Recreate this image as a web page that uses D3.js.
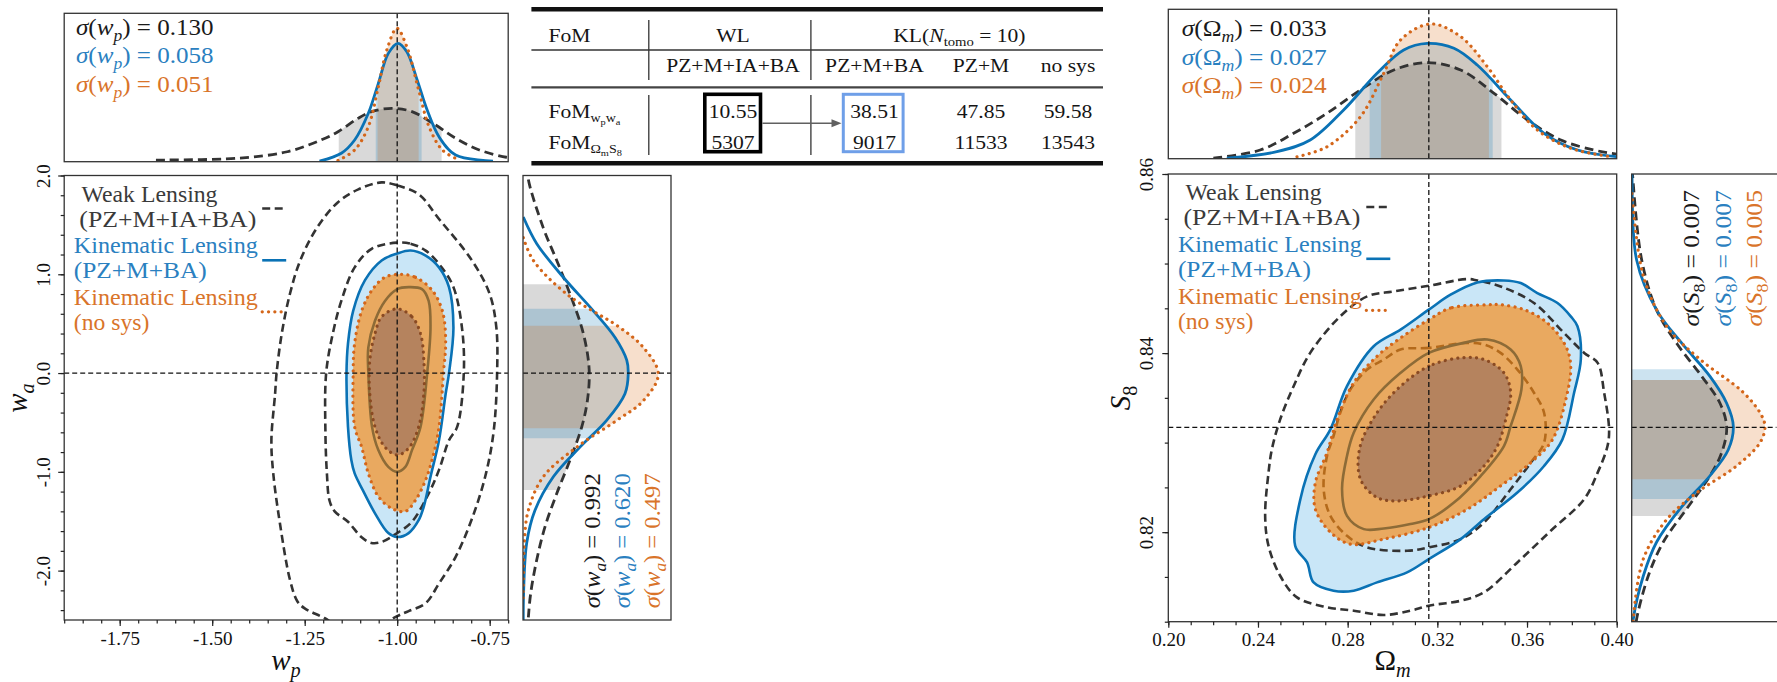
<!DOCTYPE html>
<html><head><meta charset="utf-8">
<script src="https://cdn.jsdelivr.net/npm/d3@7"></script>
<style>
html,body{margin:0;padding:0;background:#fff;}
svg{display:block;}
svg text{font-family:"Liberation Serif","DejaVu Serif",serif;}
</style>
</head><body><svg id="c" width="1777" height="682"></svg>
<script>
// ---------------- DATA ----------------
// Left figure: w_p - w_a
const wpTicks = [-1.75, -1.5, -1.25, -1.0, -0.75];
const wpTickLabels = ["-1.75", "-1.50", "-1.25", "-1.00", "-0.75"];
const waTicks = [2, 1, 0, -1, -2];
const waTickLabels = ["2.0", "1.0", "0.0", "-1.0", "-2.0"];
const fidWpWa = [-1.0, 0.0];

const wlOuterL = [[-1.042,1.93],[-1.0,1.90],[-0.942,1.81],[-0.887,1.56],[-0.798,1.14],[-0.750,0.80],[-0.732,0.46],[-0.730,0.0],[-0.739,-0.58],[-0.760,-1.016],[-0.796,-1.455],[-0.842,-1.86],[-0.887,-2.13],[-0.923,-2.33],[-0.969,-2.41],[-1.00,-2.46],[-1.06,-2.58],[-1.14,-2.60],[-1.197,-2.48],[-1.251,-2.38],[-1.27,-2.31],[-1.29,-2.09],[-1.317,-1.52],[-1.335,-1.016],[-1.34,-0.68],[-1.33,-0.21],[-1.326,0.0],[-1.312,0.40],[-1.29,0.80],[-1.262,1.14],[-1.217,1.47],[-1.16,1.73],[-1.105,1.86]];
const wlInnerL = [[-1.0,1.32],[-0.964,1.31],[-0.923,1.24],[-0.88,1.07],[-0.848,0.87],[-0.825,0.46],[-0.82,0.0],[-0.838,-0.545],[-0.86,-0.68],[-0.887,-0.98],[-0.915,-1.22],[-0.96,-1.505],[-1.00,-1.62],[-1.042,-1.71],[-1.07,-1.72],[-1.097,-1.66],[-1.133,-1.505],[-1.169,-1.40],[-1.183,-1.29],[-1.19,-1.016],[-1.194,-0.6],[-1.192,0.0],[-1.174,0.40],[-1.151,0.73],[-1.115,1.07],[-1.068,1.26]];
const kl2L = [[-1.0,1.21],[-0.964,1.24],[-0.923,1.19],[-0.887,1.07],[-0.86,0.87],[-0.848,0.46],[-0.86,0.0],[-0.869,-0.21],[-0.887,-0.68],[-0.910,-1.05],[-0.928,-1.35],[-0.942,-1.49],[-0.969,-1.62],[-1.0,-1.66],[-1.024,-1.62],[-1.06,-1.42],[-1.093,-1.185],[-1.115,-1.016],[-1.124,-0.88],[-1.133,-0.545],[-1.137,0.0],[-1.133,0.30],[-1.119,0.63],[-1.087,0.94],[-1.042,1.14]];
const kl1L = [[-1.0,0.85],[-0.969,0.87],[-0.933,0.85],[-0.915,0.73],[-0.910,0.46],[-0.919,0.0],[-0.937,-0.545],[-0.96,-0.78],[-0.978,-0.95],[-1.0,-1.0],[-1.024,-0.95],[-1.051,-0.78],[-1.068,-0.545],[-1.078,0.0],[-1.078,0.26],[-1.06,0.53],[-1.033,0.73]];
const ns2L = [[-0.992,1.0],[-0.951,0.97],[-0.906,0.84],[-0.878,0.63],[-0.869,0.33],[-0.875,0.0],[-0.887,-0.545],[-0.901,-0.81],[-0.923,-1.08],[-0.951,-1.29],[-0.978,-1.40],[-1.015,-1.37],[-1.051,-1.25],[-1.078,-1.016],[-1.096,-0.75],[-1.115,-0.545],[-1.119,0.0],[-1.115,0.30],[-1.096,0.63],[-1.068,0.84],[-1.033,0.97]];
const ns1L = [[-1.0,0.65],[-0.96,0.57],[-0.937,0.40],[-0.928,0.13],[-0.928,-0.21],[-0.942,-0.545],[-0.969,-0.76],[-1.0,-0.83],[-1.033,-0.75],[-1.06,-0.545],[-1.074,-0.21],[-1.074,0.13],[-1.06,0.40],[-1.042,0.57]];

const wpDensWL = [[-1.652,0.011],[-1.434,0.023],[-1.297,0.067],[-1.206,0.146],[-1.160,0.202],[-1.106,0.292],[-1.069,0.337],[-1.014,0.360],[-0.960,0.337],[-0.896,0.247],[-0.842,0.158],[-0.778,0.079],[-0.705,0.030],[-0.69,0.027]];
const wpDensKL = [[-1.210,0.004],[-1.151,0.057],[-1.115,0.146],[-1.078,0.326],[-1.051,0.528],[-1.024,0.730],[-0.998,0.798],[-0.974,0.741],[-0.946,0.551],[-0.919,0.348],[-0.887,0.168],[-0.842,0.045],[-0.741,0.004]];
const wpDensNS = [[-1.160,0.008],[-1.115,0.079],[-1.078,0.236],[-1.051,0.505],[-1.028,0.753],[-1.001,0.899],[-0.974,0.775],[-0.942,0.483],[-0.914,0.236],[-0.878,0.079],[-0.833,0.012]];
const wpBands = {wl:[-1.158,-0.880], kl:[-1.058,-0.934], ns:[-1.053,-0.942]};

const waDensWL = [[2.1,0.03],[1.96,0.036],[1.47,0.137],[1.14,0.228],[0.80,0.318],[0.46,0.397],[0.20,0.435],[-0.01,0.448],[-0.28,0.435],[-0.545,0.397],[-0.88,0.318],[-1.22,0.228],[-1.555,0.149],[-1.89,0.093],[-2.23,0.052],[-2.48,0.036],[-2.6,0.032]];
const waDensKL = [[1.58,0.002],[1.31,0.093],[0.97,0.272],[0.63,0.475],[0.36,0.622],[0.13,0.701],[-0.01,0.711],[-0.21,0.689],[-0.48,0.565],[-0.75,0.385],[-1.05,0.205],[-1.39,0.081],[-1.72,0.025],[-2.23,0.004],[-2.6,0.002]];
const waDensNS = [[1.37,0.002],[1.14,0.07],[0.80,0.295],[0.46,0.655],[0.26,0.813],[-0.01,0.914],[-0.28,0.813],[-0.48,0.633],[-0.75,0.363],[-1.05,0.137],[-1.39,0.036],[-1.72,0.009],[-2.3,0.002]];
const waBands = {wl:[-1.185,0.90], kl:[-0.66,0.65], ns:[-0.56,0.48]};

const sigmaWp = ["0.130", "0.058", "0.051"];
const sigmaWa = ["0.992", "0.620", "0.497"];

// Right figure: Omega_m - S_8
const omTicks = [0.20, 0.24, 0.28, 0.32, 0.36, 0.40];
const omTickLabels = ["0.20", "0.24", "0.28", "0.32", "0.36", "0.40"];
const s8Ticks = [0.86, 0.84, 0.82];
const s8TickLabels = ["0.86", "0.84", "0.82"];
const fidOmS8 = [0.3162, 0.8317];

const wlOuterR = [[0.3334,0.84827],[0.3162,0.84752],[0.3006,0.84689],[0.2887,0.84633],[0.2767,0.8441],[0.2633,0.84002],[0.2559,0.8363],[0.2499,0.83259],[0.2462,0.82925],[0.2447,0.82665],[0.2432,0.82182],[0.2447,0.81847],[0.2499,0.81513],[0.2574,0.81272],[0.2708,0.81161],[0.2827,0.81123],[0.2961,0.81075],[0.308,0.81123],[0.3162,0.81179],[0.3304,0.81234],[0.3408,0.81328],[0.3557,0.81662],[0.3706,0.82015],[0.3855,0.82368],[0.3915,0.82665],[0.3959,0.82962],[0.3966,0.83148],[0.3944,0.83557],[0.3915,0.83891],[0.3855,0.84002],[0.3765,0.84225],[0.3631,0.84559],[0.3482,0.84744],[0.3378,0.84811]];
const wlInnerR = [[0.3334,0.84114],[0.3162,0.84058],[0.3036,0.84039],[0.2961,0.83928],[0.2887,0.83816],[0.2812,0.83593],[0.2767,0.83333],[0.2737,0.83073],[0.2708,0.82851],[0.2693,0.82479],[0.2723,0.82182],[0.2797,0.81959],[0.2887,0.8183],[0.3065,0.81792],[0.3162,0.8183],[0.3304,0.81922],[0.3408,0.82108],[0.3527,0.82479],[0.3617,0.82777],[0.3676,0.82999],[0.3676,0.83333],[0.3631,0.83557],[0.3557,0.83816],[0.3482,0.84002],[0.3408,0.84095]];
const kl2R = [[0.3497,0.84811],[0.3378,0.84789],[0.3259,0.84652],[0.3162,0.84485],[0.3036,0.84262],[0.2916,0.84076],[0.2797,0.8363],[0.2723,0.83148],[0.2656,0.8287],[0.2589,0.82368],[0.2566,0.81847],[0.2619,0.81662],[0.2648,0.81439],[0.2737,0.81346],[0.2827,0.81346],[0.2931,0.81439],[0.3065,0.81551],[0.3162,0.81699],[0.3304,0.81922],[0.3408,0.82145],[0.3557,0.82442],[0.3676,0.82739],[0.3758,0.83036],[0.381,0.83557],[0.384,0.83928],[0.3825,0.84299],[0.3795,0.8441],[0.3736,0.84559],[0.3646,0.8467],[0.3572,0.84782]];
const kl1R = [[0.3423,0.84151],[0.3318,0.84114],[0.3162,0.84002],[0.3036,0.83779],[0.2916,0.83482],[0.2827,0.83111],[0.2797,0.82851],[0.2775,0.82479],[0.2797,0.82182],[0.2872,0.82034],[0.2961,0.82041],[0.308,0.8209],[0.3162,0.82145],[0.3274,0.8233],[0.3393,0.82627],[0.3497,0.82962],[0.3527,0.83184],[0.3575,0.83593],[0.3572,0.83853],[0.3527,0.84039]];
const ns2R = [[0.3423,0.8454],[0.3259,0.84503],[0.3162,0.84373],[0.3036,0.84169],[0.2931,0.83964],[0.2827,0.83668],[0.2753,0.83259],[0.2708,0.82888],[0.2656,0.82554],[0.2656,0.82256],[0.2723,0.82],[0.2812,0.81866],[0.2961,0.81922],[0.3162,0.82053],[0.3334,0.82256],[0.3482,0.82516],[0.3617,0.82777],[0.3714,0.83036],[0.3773,0.83482],[0.3795,0.83853],[0.3773,0.84076],[0.3691,0.84336],[0.3587,0.84485],[0.3482,0.8454]];
const ns1R = [[0.3304,0.83947],[0.3162,0.83853],[0.3036,0.8363],[0.2931,0.83333],[0.2855,0.8295],[0.2857,0.82591],[0.2931,0.82387],[0.3021,0.82349],[0.3162,0.82405],[0.3304,0.82516],[0.3408,0.82739],[0.3468,0.82962],[0.3505,0.83259],[0.3527,0.83557],[0.3497,0.83779],[0.3408,0.83928]];

const omDensWL = [[0.2201,0.003],[0.241,0.058],[0.2559,0.170],[0.2708,0.304],[0.2857,0.460],[0.3006,0.594],[0.3155,0.643],[0.3304,0.594],[0.3453,0.438],[0.3602,0.259],[0.3751,0.125],[0.3899,0.058],[0.4001,0.031],[0.41,0.02]];
const omDensKL = [[0.2261,0.003],[0.2484,0.047],[0.2633,0.125],[0.2782,0.326],[0.2931,0.572],[0.305,0.728],[0.3155,0.772],[0.3274,0.739],[0.3378,0.627],[0.3527,0.393],[0.3676,0.170],[0.3825,0.058],[0.4001,0.013],[0.41,0.008]];
const omDensNS = [[0.2574,0.013],[0.2708,0.080],[0.2857,0.281],[0.2961,0.572],[0.3036,0.795],[0.317,0.902],[0.3304,0.817],[0.3423,0.616],[0.3527,0.393],[0.3646,0.192],[0.3795,0.070],[0.3974,0.013]];
const omBands = {wl:[0.2834,0.3486], kl:[0.2898,0.3447], ns:[0.2949,0.3430]};

const s8DensWL = [[0.8605,0.004],[0.8597,0.007],[0.8504,0.069],[0.8448,0.172],[0.8411,0.310],[0.8374,0.483],[0.8344,0.609],[0.8317,0.655],[0.8289,0.621],[0.8263,0.540],[0.8226,0.379],[0.8189,0.218],[0.8151,0.114],[0.8103,0.034],[0.8095,0.030]];
const s8DensKL = [[0.8605,0.001],[0.8597,0.002],[0.8504,0.034],[0.8448,0.172],[0.8411,0.345],[0.8374,0.540],[0.8344,0.655],[0.8318,0.701],[0.8292,0.666],[0.8263,0.540],[0.8226,0.333],[0.8189,0.172],[0.8151,0.080],[0.8103,0.011],[0.8095,0.008]];
const s8DensNS = [[0.8578,0.002],[0.8486,0.080],[0.843,0.241],[0.8393,0.471],[0.8356,0.770],[0.833,0.897],[0.8317,0.919],[0.83,0.885],[0.8274,0.724],[0.8244,0.448],[0.8214,0.241],[0.817,0.080],[0.8103,0.011],[0.8095,0.008]];
const s8Bands = {wl:[0.8218,0.8370], kl:[0.8237,0.8382], ns:[0.8259,0.8370]};

const sigmaOm = ["0.033", "0.027", "0.024"];
const sigmaS8 = ["0.007", "0.007", "0.005"];

const legendText = ["Weak Lensing", "(PZ+M+IA+BA)", "Kinematic Lensing", "(PZ+M+BA)", "Kinematic Lensing", "(no sys)"];

// Table
const tableHead2 = ["PZ+M+IA+BA", "PZ+M+BA", "PZ+M", "no sys"];
const fomWpWa = ["10.55", "38.51", "47.85", "59.58"];
const fomOmS8 = ["5307", "9017", "11533", "13543"];

// ---------------- DRAWING ----------------
const svg = d3.select("#c");
const COL = {wl:"#333333", kl:"#0a72b5", ns:"#d4661a", ns1:"#8a4a22", kl1:"#8d6b37"};
const TXT = {wl:"#3a3a3a", kl:"#2a80c0", ns:"#d9742a", blk:"#1a1a1a"};
const BAND = {wl:"rgba(128,128,128,0.30)", kl:"rgba(0,114,178,0.20)", ns:"rgba(213,94,0,0.20)"};

let clipN = 0;
const defs = svg.append("defs");
function clipRect(x0, y0, x1, y1) {
  const id = "clip" + (clipN++);
  defs.append("clipPath").attr("id", id).append("rect")
    .attr("x", x0).attr("y", y0).attr("width", x1 - x0).attr("height", y1 - y0);
  return `url(#${id})`;
}
function styleLine(p, k, marg) {
  p.attr("fill", "none");
  if (k === "wl") p.attr("stroke", COL.wl).attr("stroke-width", marg ? 2.8 : 2.6).attr("stroke-dasharray", marg ? "9,5" : "8,4.5");
  if (k === "kl") p.attr("stroke", COL.kl).attr("stroke-width", marg ? 2.8 : 2.6);
  if (k === "kl1") p.attr("stroke", COL.kl1).attr("stroke-width", 2.6);
  if (k === "ns") p.attr("stroke", COL.ns).attr("stroke-width", 3.2).attr("stroke-dasharray", "0.1,6.2").attr("stroke-linecap", "round");
  if (k === "ns1") p.attr("stroke", COL.ns1).attr("stroke-width", 3.2).attr("stroke-dasharray", "0.1,6.2").attr("stroke-linecap", "round");
  return p;
}
function mtext(t, parts, size) {
  let shift = 0;
  parts.forEach(p => {
    const ts = t.append("tspan").text(p.t);
    if (p.i) ts.attr("font-style", "italic");
    ts.attr("font-size", size * (p.fs || 1));
    const target = (p.dy || 0) * size;
    if (target !== shift) { ts.attr("dy", target - shift); shift = target; }
  });
  return t;
}
function fitLen(t, len) { return t.attr("textLength", len).attr("lengthAdjust", "spacingAndGlyphs"); }
function box(x0, y0, x1, y1) {
  svg.append("rect").attr("x", x0).attr("y", y0).attr("width", x1 - x0).attr("height", y1 - y0)
    .attr("fill", "none").attr("stroke", "#333").attr("stroke-width", 1.3);
}

function mainPanel(x, y, C, fid) {
  const [x0, x1] = x.range(), [yb, yt] = y.range();
  const g = svg.append("g").attr("clip-path", clipRect(x0, yt, x1, yb));
  const line = d3.line().x(d => x(d[0])).y(d => y(d[1])).curve(d3.curveCatmullRomClosed.alpha(0.5));
  g.append("path").attr("d", line(C.kl2)).attr("fill", "#c9e6f7");
  [C.wl2, C.wl1].forEach(c => styleLine(g.append("path").attr("d", line(c)), "wl"));
  styleLine(g.append("path").attr("d", line(C.kl2)), "kl");
  g.append("path").attr("d", line(C.ns2)).attr("fill", "rgba(251,137,16,0.65)");
  g.append("path").attr("d", line(C.ns1)).attr("fill", "rgba(146,106,94,0.6)");
  styleLine(g.append("path").attr("d", line(C.kl1)), "kl1");
  styleLine(g.append("path").attr("d", line(C.ns2)), "ns");
  styleLine(g.append("path").attr("d", line(C.ns1)), "ns1");
  g.append("line").attr("x1", x(fid[0])).attr("x2", x(fid[0])).attr("y1", yt).attr("y2", yb)
    .attr("stroke", "#111").attr("stroke-width", 1.3).attr("stroke-dasharray", "5,3");
  g.append("line").attr("x1", x0).attr("x2", x1).attr("y1", y(fid[1])).attr("y2", y(fid[1]))
    .attr("stroke", "#111").attr("stroke-width", 1.3).attr("stroke-dasharray", "5,3");
  box(x0, yt, x1, yb);
}

function topMarg(x, yd, D, B, fidX) {
  const [x0, x1] = x.range(), [yb, yt] = yd.range();
  const g = svg.append("g").attr("clip-path", clipRect(x0, yt, x1, yb));
  const area = d3.area().x(d => x(d[0])).y0(yb).y1(d => yd(d[1])).curve(d3.curveCatmullRom);
  const line = d3.line().x(d => x(d[0])).y(d => yd(d[1])).curve(d3.curveCatmullRom);
  ["wl", "kl", "ns"].forEach(k => {
    g.append("g").attr("clip-path", clipRect(x(B[k][0]), yt, x(B[k][1]), yb))
      .append("path").attr("d", area(D[k])).attr("fill", BAND[k]);
  });
  ["wl", "kl", "ns"].forEach(k => styleLine(g.append("path").attr("d", line(D[k])), k, true));
  g.append("line").attr("x1", x(fidX)).attr("x2", x(fidX)).attr("y1", yt).attr("y2", yb)
    .attr("stroke", "#111").attr("stroke-width", 1.3).attr("stroke-dasharray", "5,3");
  box(x0, yt, x1, yb);
}

function rightMarg(y, xd, D, B, fidY, boxRight) {
  const [x0, x1] = xd.range(), [yb, yt] = y.range();
  const g = svg.append("g").attr("clip-path", clipRect(x0, yt, x1, yb));
  const area = d3.area().y(d => y(d[0])).x0(x0).x1(d => xd(d[1])).curve(d3.curveCatmullRom);
  const line = d3.line().y(d => y(d[0])).x(d => xd(d[1])).curve(d3.curveCatmullRom);
  ["wl", "kl", "ns"].forEach(k => {
    g.append("g").attr("clip-path", clipRect(x0, y(B[k][1]), x1, y(B[k][0])))
      .append("path").attr("d", area(D[k])).attr("fill", BAND[k]);
  });
  ["wl", "kl", "ns"].forEach(k => styleLine(g.append("path").attr("d", line(D[k])), k, true));
  g.append("line").attr("x1", x0).attr("x2", x1).attr("y1", y(fidY)).attr("y2", y(fidY))
    .attr("stroke", "#111").attr("stroke-width", 1.3).attr("stroke-dasharray", "5,3");
  box(x0, yt, boxRight || x1, yb);
}

function axes(x, y, xT, xL, xMin, yT, yL, yMin, xBase, yOff) {
  const [x0, x1] = x.range(), [yb, yt] = y.range();
  const fmt = (T, L) => d => L[T.indexOf(d)];
  const gx1 = svg.append("g").attr("transform", `translate(0,${yb})`)
    .call(d3.axisBottom(x).tickValues(xMin).tickSize(3.5).tickSizeOuter(0).tickFormat(""));
  const gx2 = svg.append("g").attr("transform", `translate(0,${yb})`)
    .call(d3.axisBottom(x).tickValues(xT).tickSize(6).tickSizeOuter(0).tickFormat(fmt(xT, xL)));
  const gy1 = svg.append("g").attr("transform", `translate(${x0},0)`)
    .call(d3.axisLeft(y).tickValues(yMin).tickSize(3.5).tickSizeOuter(0).tickFormat(""));
  const gy2 = svg.append("g").attr("transform", `translate(${x0},0)`)
    .call(d3.axisLeft(y).tickValues(yT).tickSize(6).tickSizeOuter(0).tickFormat(fmt(yT, yL)));
  [gx1, gx2, gy1, gy2].forEach(g => {
    g.select(".domain").remove();
    g.selectAll("line").attr("stroke", "#222").attr("stroke-width", 1.2);
    g.attr("font-size", 19);
  });
  gx2.selectAll("text").attr("y", xBase - yb).attr("dy", null).attr("fill", "#111");
  gy2.selectAll("text").attr("x", null).attr("dy", null).attr("text-anchor", "middle")
    .attr("transform", `translate(${-yOff},0) rotate(-90)`).attr("fill", "#111");
}

const legendLen = [136, 177, 184, 133, 184, 75.5];
function legend(x0, y0) {
  const g = svg.append("g").attr("font-size", 23.5);
  const dx = [17.3, 15.1, 9.6, 9.6, 9.6, 9.6], by = [26.2, 51.2, 77.5, 102.5, 129.5, 154.5];
  const cols = [TXT.wl, TXT.wl, TXT.kl, TXT.kl, TXT.ns, TXT.ns];
  legendText.forEach((t, i) => fitLen(g.append("text").attr("x", x0 + dx[i]).attr("y", y0 + by[i]).attr("fill", cols[i]).text(t), legendLen[i]));
  [["wl", 33], ["kl", 84.8], ["ns", 136.3]].forEach(([k, yy]) => {
    styleLine(g.append("line").attr("x1", x0 + 198).attr("x2", x0 + 222).attr("y1", y0 + yy).attr("y2", y0 + yy), k);
  });
}

// ---------- Left figure ----------
const xL = d3.scaleLinear().domain([-1.9, -0.7]).range([64.2, 508.2]);
const yL = d3.scaleLinear().domain([-2.5, 2.0]).range([620, 175.5]);
const dTL = d3.scaleLinear().domain([0, 1]).range([161.7, 13.3]);
const dRL = d3.scaleLinear().domain([0, 1]).range([523, 671]);

mainPanel(xL, yL, {wl2: wlOuterL, wl1: wlInnerL, kl2: kl2L, kl1: kl1L, ns2: ns2L, ns1: ns1L}, fidWpWa);
topMarg(xL, dTL, {wl: wpDensWL, kl: wpDensKL, ns: wpDensNS}, wpBands, fidWpWa[0]);
rightMarg(yL, dRL, {wl: waDensWL, kl: waDensKL, ns: waDensNS}, waBands, fidWpWa[1]);
axes(xL, yL, wpTicks, wpTickLabels, d3.range(-1.9, -0.699, 0.05), waTicks, waTickLabels, d3.range(-2.4, 2.01, 0.2), 644.5, 13.7);
legend(64.2, 175.5);

// ---------- Right figure ----------
const xR = d3.scaleLinear().domain([0.2, 0.4]).range([1168.3, 1616.7]);
const yR = d3.scaleLinear().domain([0.81, 0.86]).range([621.7, 174]);
const dTR = d3.scaleLinear().domain([0, 1]).range([158.7, 9.3]);
const dRR = d3.scaleLinear().domain([0, 1]).range([1631.7, 1776.7]);

mainPanel(xR, yR, {wl2: wlOuterR, wl1: wlInnerR, kl2: kl2R, kl1: kl1R, ns2: ns2R, ns1: ns1R}, fidOmS8);
topMarg(xR, dTR, {wl: omDensWL, kl: omDensKL, ns: omDensNS}, omBands, fidOmS8[0]);
rightMarg(yR, dRR, {wl: s8DensWL, kl: s8DensKL, ns: s8DensNS}, s8Bands, fidOmS8[1], 1790);
axes(xR, yR, omTicks, omTickLabels, d3.range(0.2, 0.4001, 0.01), s8Ticks, s8TickLabels, d3.range(0.81, 0.8601, 0.005), 646, 15.3);
legend(1168.3, 174);

// ---------- Axis labels ----------
const SUB = 0.25, SFS = 0.7;
mtext(svg.append("text").attr("x", 286).attr("y", 670).attr("text-anchor", "middle").attr("fill", "#111"),
  [{t: "w", i: 1}, {t: "p", i: 1, dy: SUB, fs: SFS}], 29);
mtext(svg.append("text").attr("x", 1392.5).attr("y", 670).attr("text-anchor", "middle").attr("fill", "#111"),
  [{t: "Ω"}, {t: "m", i: 1, dy: SUB, fs: SFS}], 29);
mtext(svg.append("text").attr("transform", "translate(27,398) rotate(-90)").attr("text-anchor", "middle").attr("fill", "#111"),
  [{t: "w", i: 1}, {t: "a", i: 1, dy: SUB, fs: SFS}], 29);
mtext(svg.append("text").attr("transform", "translate(1130,398) rotate(-90)").attr("text-anchor", "middle").attr("fill", "#111"),
  [{t: "S", i: 1}, {t: "8", dy: SUB, fs: SFS}], 29);

// ---------- Sigma labels ----------
const sigCols = [TXT.blk, TXT.kl, TXT.ns];
const SZ = 24;
const partsWp = v => [{t: "σ", i: 1}, {t: "("}, {t: "w", i: 1}, {t: "p", i: 1, dy: SUB, fs: SFS}, {t: ") = " + v}];
const partsWa = v => [{t: "σ", i: 1}, {t: "("}, {t: "w", i: 1}, {t: "a", i: 1, dy: SUB, fs: SFS}, {t: ") = " + v}];
const partsOm = v => [{t: "σ", i: 1}, {t: "(Ω"}, {t: "m", i: 1, dy: SUB, fs: SFS}, {t: ") = " + v}];
const partsS8 = v => [{t: "σ", i: 1}, {t: "("}, {t: "S", i: 1}, {t: "8", dy: SUB, fs: SFS}, {t: ") = " + v}];
[35, 63.3, 91.7].forEach((yy, i) => fitLen(mtext(svg.append("text").attr("x", 76).attr("y", yy).attr("fill", sigCols[i]), partsWp(sigmaWp[i]), SZ), 137.5));
[36, 65, 93.3].forEach((yy, i) => fitLen(mtext(svg.append("text").attr("x", 1181.7).attr("y", yy).attr("fill", sigCols[i]), partsOm(sigmaOm[i]), SZ), 145));
[600, 630, 660].forEach((xx, i) => fitLen(mtext(svg.append("text").attr("transform", `translate(${xx},608.3) rotate(-90)`).attr("text-anchor", "start").attr("fill", sigCols[i]), partsWa(sigmaWa[i]), SZ), 135));
[1699.3, 1730.7, 1761.7].forEach((xx, i) => fitLen(mtext(svg.append("text").attr("transform", `translate(${xx},190) rotate(-90)`).attr("text-anchor", "end").attr("fill", sigCols[i]), partsS8(sigmaS8[i]), SZ), 136.5));

// ---------- Table ----------
const tg = svg.append("g").attr("fill", "#151515");
const TS = 18, SX = 1.2;
const tt = (x, y, anchor) => tg.append("text").attr("transform", `translate(${x},${y}) scale(${SX},1)`).attr("text-anchor", anchor || "start").attr("font-size", TS);
const hl = (y, w, c) => tg.append("line").attr("x1", 531.4).attr("x2", 1103).attr("y1", y).attr("y2", y).attr("stroke", c).attr("stroke-width", w);
hl(9.3, 4.5, "#111"); hl(50, 1.4, "#333"); hl(87.3, 2.2, "#444"); hl(163.3, 4.5, "#111");
[648.8, 810.9].forEach(xx => {
  tg.append("line").attr("x1", xx).attr("x2", xx).attr("y1", 20).attr("y2", 80).attr("stroke", "#333").attr("stroke-width", 1.3);
  tg.append("line").attr("x1", xx).attr("x2", xx).attr("y1", 95).attr("y2", 155).attr("stroke", "#333").attr("stroke-width", 1.3);
});
const colX = [733, 874.5, 981, 1068];
tt(548.4, 41.7).text("FoM");
tt(733, 41.7, "middle").text("WL");
mtext(tt(959.4, 41.7, "middle"), [{t: "KL("}, {t: "N", i: 1}, {t: "tomo", dy: 0.25, fs: 0.68}, {t: " = 10)"}], TS);
tableHead2.forEach((t, i) => tt(colX[i], 71.7, "middle").text(t));
mtext(tt(548.4, 118.3), [{t: "FoM"}, {t: "w", dy: 0.22, fs: 0.65}, {t: "p", dy: 0.38, fs: 0.48}, {t: "w", dy: 0.22, fs: 0.65}, {t: "a", dy: 0.38, fs: 0.48}], TS);
mtext(tt(548.4, 149), [{t: "FoM"}, {t: "Ω", dy: 0.22, fs: 0.65}, {t: "m", dy: 0.38, fs: 0.48}, {t: "S", dy: 0.22, fs: 0.65}, {t: "8", dy: 0.38, fs: 0.48}], TS);
fomWpWa.forEach((t, i) => tt(colX[i], 118.3, "middle").text(t));
fomOmS8.forEach((t, i) => tt(colX[i], 149, "middle").text(t));
tg.append("rect").attr("x", 704.8).attr("y", 94.3).attr("width", 55.7).attr("height", 57.4).attr("fill", "none").attr("stroke", "#000").attr("stroke-width", 3.6);
tg.append("rect").attr("x", 843.3).attr("y", 94.3).attr("width", 59.8).attr("height", 57.4).attr("fill", "none").attr("stroke", "#6f9fe8").attr("stroke-width", 3);
tg.append("line").attr("x1", 762.4).attr("x2", 833).attr("y1", 123.3).attr("y2", 123.3).attr("stroke", "#606060").attr("stroke-width", 1.4);
tg.append("path").attr("d", "M841.5,123.3 L831.5,119.3 L831.5,127.3 Z").attr("fill", "#606060");
</script></body></html>
